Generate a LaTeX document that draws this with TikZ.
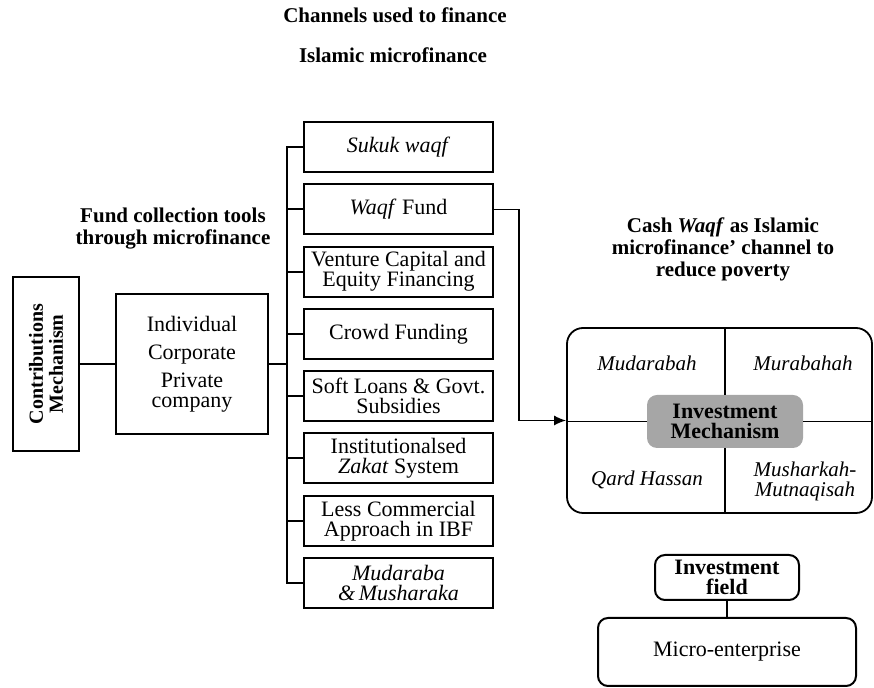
\documentclass[tikz,border=0pt]{standalone}
\usepackage{fontspec}
\setmainfont{Liberation Serif}
\usetikzlibrary{arrows.meta}

\begin{document}
\begin{tikzpicture}[x=0.5pt, y=-0.5pt,
	toolbox/.style={draw, line width=1pt, minimum width=94.5pt, minimum height=25pt, inner sep=1pt, align=center, font=\fontsize{11}{10}\selectfont},
	roundbox/.style={draw, line width=1pt, rounded corners=5pt, align=center},
	heading/.style={align=center, font=\fontsize{10.5}{11}\selectfont\bfseries},
	quadtext/.style={align=center, font=\fontsize{10.5}{10}\selectfont\itshape}]
	\useasboundingbox (0,0) rectangle (874,688);
	\node[heading] (title1) at (395,15){Channels used to finance};
	\node[heading] (title2) at (393,55){Islamic microfinance};
	\node[heading] (collect) at (173,229){Fund collection tools\\through microfinance};
	\node[heading] (cashwaqf) at (723,249){Cash \textit{Waqf} as Islamic\\microfinance' channel to\\reduce poverty};
	\node[draw, line width=1pt, rotate=90, minimum width=87pt, minimum height=33pt, inner sep=1pt, align=center, font=\fontsize{10}{10}\selectfont\bfseries] (contrib) at (46,364){Contributions\\Mechanism};
	\node[draw, line width=1pt, minimum width=76pt, minimum height=70pt, align=center, font=\fontsize{11}{14}\selectfont] (donors) at (192,364){Individual\\Corporate\\Private\\[-4pt]company};
	\draw[line width=1pt] (contrib.south) -- (donors.west);
	\coordinate (bus) at (287,364);
	\draw[line width=1.2pt] (donors.east) -- (bus);
	\foreach \txt [count=\i] in {{\textit{Sukuk waqf}}, {\textit{Waqf} Fund}, {Venture Capital and\\Equity Financing}, {Crowd Funding}, {Soft Loans \& Govt.\\Subsidies}, {Institutionalsed\\\textit{Zakat} System}, {Less Commercial\\Approach in IBF}, {\textit{Mudaraba}\\\textit{\&\,Musharaka}}}{
		\node[toolbox] (tool\i) at (398.5,{147+62.3*(\i-1)}){\txt};
		\draw[line width=1pt] (tool\i.west) -| (bus);
	}
	\node[draw, line width=0.9pt, rounded corners=8pt, minimum width=152.5pt, minimum height=92.5pt] (quad) at (719.5,420.5){};
	\node[fill=black!35, rounded corners=5pt, minimum width=78pt, minimum height=26.5pt, inner sep=1pt, align=center, font=\fontsize{11}{10}\selectfont\bfseries] (mech) at (725,421.5){Investment\\Mechanism};
	\draw[line width=0.9pt] (mech.north) -- (mech.north |- quad.north);
	\draw[line width=0.9pt] (mech.south) -- (mech.south |- quad.south);
	\draw[line width=0.9pt] (mech.west) -- (mech.west -| quad.west);
	\draw[line width=0.9pt] (mech.east) -- (mech.east -| quad.east);
	\draw[line width=0.7pt, -{Latex[length=6pt, width=5pt]}] (tool2.east) -- ++(25,0) |- (quad.west);
	\node[quadtext] (mudarabah) at (647,363){Mudarabah};
	\node[quadtext] (murabahah) at (803,363){Murabahah};
	\node[quadtext] (qard) at (647,480){Qard Hassan};
	\node[quadtext] (musharkah) at (805,481){Musharkah-\\Mutnaqisah};
	\node[roundbox, minimum width=72pt, minimum height=22.5pt, inner sep=1pt, font=\fontsize{11}{10}\selectfont\bfseries] (field) at (727,577.5){Investment\\field};
	\node[roundbox, minimum width=129pt, minimum height=34pt, font=\fontsize{11}{13}\selectfont] (micro) at (727,652){Micro-enterprise};
	\draw[line width=1pt] (field.south) -- (micro.north);
\end{tikzpicture}
\end{document}
